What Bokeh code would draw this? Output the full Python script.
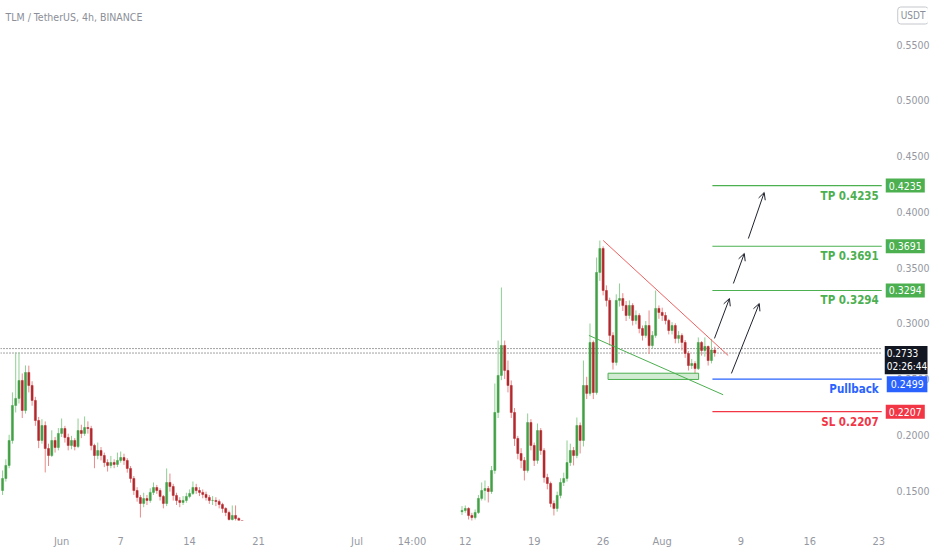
from bokeh.plotting import figure
from bokeh.models import Range1d, FixedTicker, NumeralTickFormatter, Label, Arrow, OpenHead, ColumnDataSource
from bokeh.embed import file_html
from bokeh.resources import INLINE

# ---- data (days since Jun 1; 8h candles) ----
STEP = 1 / 3
SEG1_START = -6.0
SEG2_START = -6.0 + 140 / 3

seg1_open0 = 0.150
seg1_close = [0.1608, 0.1725, 0.1949, 0.2263, 0.2326, 0.2487, 0.2218, 0.2559, 0.2442, 0.2308,
              0.2128, 0.1949, 0.2083, 0.1877, 0.1814, 0.1949, 0.1886, 0.2012, 0.2056, 0.1976,
              0.1904, 0.1949, 0.1895, 0.2038, 0.2012, 0.2065, 0.2056, 0.1904, 0.1814, 0.1859,
              0.1814, 0.1751, 0.1725, 0.1751, 0.1734, 0.1770, 0.1796, 0.1770, 0.1698, 0.1608,
              0.1500, 0.1438, 0.1384, 0.1428, 0.1411, 0.1483, 0.1527, 0.1500, 0.1447, 0.1384,
              0.1572, 0.1536, 0.1456, 0.1411, 0.1393, 0.1411, 0.1447, 0.1474, 0.1527, 0.1500,
              0.1483, 0.1465, 0.1438, 0.1411, 0.1411, 0.1402, 0.1375, 0.1339, 0.1303, 0.1240,
              0.1276, 0.1249, 0.1178, 0.1124]
seg1_high = [0.168, 0.178, 0.200, 0.238, 0.2738, 0.2738, 0.255, 0.2622, 0.262, 0.248,
             0.234, 0.216, 0.214, 0.212, 0.192, 0.204, 0.198, 0.206, 0.2146, 0.208,
             0.201, 0.199, 0.197, 0.2146, 0.209, 0.2164, 0.212, 0.208, 0.192, 0.193,
             0.189, 0.184, 0.178, 0.181, 0.178, 0.184, 0.185, 0.183, 0.179, 0.172,
             0.163, 0.153, 0.146, 0.148, 0.146, 0.152, 0.1572, 0.155, 0.152, 0.146,
             0.1698, 0.1652, 0.156, 0.148, 0.144, 0.145, 0.148, 0.151, 0.1581, 0.156,
             0.153, 0.151, 0.149, 0.146, 0.145, 0.144, 0.142, 0.139, 0.135, 0.132,
             0.1366, 0.1366, 0.126, 0.119]
seg1_low = [0.146, 0.158, 0.170, 0.192, 0.220, 0.228, 0.215, 0.219, 0.238, 0.226,
            0.208, 0.188, 0.192, 0.1662, 0.172, 0.180, 0.184, 0.186, 0.198, 0.193,
            0.186, 0.187, 0.186, 0.188, 0.197, 0.199, 0.201, 0.186, 0.170, 0.178,
            0.177, 0.171, 0.167, 0.170, 0.170, 0.171, 0.175, 0.173, 0.166, 0.157,
            0.146, 0.140, 0.1258, 0.135, 0.137, 0.139, 0.146, 0.147, 0.141, 0.134,
            0.136, 0.149, 0.141, 0.137, 0.135, 0.137, 0.139, 0.143, 0.146, 0.147,
            0.145, 0.143, 0.141, 0.138, 0.137, 0.136, 0.134, 0.130, 0.127, 0.120,
            0.122, 0.121, 0.114, 0.108]

seg2_open0 = 0.1310
seg2_close = [0.1321, 0.1339, 0.1276, 0.1258, 0.1303, 0.1429, 0.1500, 0.1518, 0.1491, 0.1680,
              0.2200, 0.2532, 0.2801, 0.2577, 0.2442, 0.2200, 0.1967, 0.1832, 0.1770, 0.1680,
              0.2110, 0.1904, 0.1770, 0.2038, 0.1859, 0.1617, 0.1563, 0.1384, 0.1339, 0.1456,
              0.1572, 0.1608, 0.1751, 0.1859, 0.1814, 0.2083, 0.1949, 0.2442, 0.2371, 0.2828,
              0.2379, 0.3456, 0.3671, 0.3294, 0.3205, 0.2891, 0.2649, 0.3205, 0.3222, 0.3160,
              0.3070, 0.3160, 0.3025, 0.3070, 0.2953, 0.2891, 0.2980, 0.2800, 0.2891, 0.3133,
              0.3097, 0.3070, 0.3025, 0.2935, 0.2980, 0.2864, 0.2891, 0.2828, 0.2729, 0.2621,
              0.2639, 0.2594, 0.2828, 0.2756, 0.2792, 0.2666, 0.2760, 0.2733]
seg2_high = [0.136, 0.1366, 0.135, 0.130, 0.133, 0.146, 0.1572, 0.1590, 0.154, 0.172,
             0.2460, 0.2845, 0.3321, 0.2845, 0.2666, 0.2487, 0.224, 0.199, 0.188, 0.180,
             0.2191, 0.214, 0.193, 0.2101, 0.206, 0.188, 0.165, 0.158, 0.141, 0.149,
             0.161, 0.166, 0.1949, 0.192, 0.189, 0.2155, 0.211, 0.2666, 0.252, 0.2998,
             0.2845, 0.3590, 0.3742, 0.3690, 0.3340, 0.3230, 0.2920, 0.3260, 0.3357, 0.3270,
             0.3200, 0.3205, 0.3180, 0.3115, 0.3090, 0.2980, 0.3020, 0.3115, 0.2930, 0.3294,
             0.3160, 0.3140, 0.3100, 0.3040, 0.3010, 0.3000, 0.2930, 0.2910, 0.2850, 0.2750,
             0.2680, 0.2660, 0.2873, 0.2840, 0.2873, 0.2800, 0.2860, 0.2790]
seg2_low = [0.128, 0.130, 0.124, 0.122, 0.124, 0.129, 0.141, 0.1411, 0.1393, 0.147,
            0.165, 0.215, 0.249, 0.250, 0.238, 0.215, 0.190, 0.178, 0.170, 0.1590,
            0.166, 0.186, 0.172, 0.174, 0.182, 0.157, 0.151, 0.135, 0.1276, 0.131,
            0.143, 0.154, 0.158, 0.172, 0.1725, 0.179, 0.1832, 0.1895, 0.232, 0.235,
            0.232, 0.236, 0.338, 0.325, 0.315, 0.280, 0.2585, 0.2621, 0.315, 0.311,
            0.302, 0.304, 0.298, 0.299, 0.291, 0.2845, 0.2870, 0.2724, 0.2770, 0.2870,
            0.3040, 0.3020, 0.2990, 0.2900, 0.2900, 0.2820, 0.2820, 0.2756, 0.2690, 0.2576,
            0.2590, 0.2550, 0.2580, 0.2710, 0.2700, 0.2621, 0.2640, 0.2700]

x_tick_days = [0, 6, 13, 20, 30, 35 + 14 / 24, 41, 48, 55, 61, 69, 76, 83]
x_tick_labels = ["Jun", "7", "14", "21", "Jul", "14:00", "12", "19", "26", "Aug", "9", "16", "23"]
y_ticks = [0.15, 0.20, 0.25, 0.30, 0.35, 0.40, 0.45, 0.50, 0.55]

last_price = 0.2733
prev_line = 0.2773
countdown = "02:26:44"

level_names = ["TP 0.4235", "TP 0.3691", "TP 0.3294", "Pullback", "SL 0.2207"]
level_values = [0.4235, 0.3691, 0.3294, 0.2499, 0.2207]
level_colors = ["#4caf50", "#4caf50", "#4caf50", "#2962ff", "#f23645"]
level_start = 66.1

# drawings
res_line_x = [55.0, 67.7]
res_line_y = [0.3743, 0.2711]
sup_line_x = [53.56, 67.19]
sup_line_y = [0.2891, 0.2359]
zone = dict(left=55.5, right=64.7, bottom=0.2496, top=0.2552)
arrow_x0 = [66.31, 68.23, 69.75, 68.03]
arrow_y0 = [0.2864, 0.3357, 0.3760, 0.2550]
arrow_x1 = [67.83, 69.34, 71.36, 70.86]
arrow_y1 = [0.3222, 0.3626, 0.4173, 0.3177]

# ---- layout ----
W, H = 932, 550
SCALE_W = 46            # width of the price-scale column (inside the frame)
BORDER_B = 30
X_START, X_PLOT_END = -6.21, 83.3          # visible chart area (left of the price scale)
X_END = X_PLOT_END + SCALE_W * (X_PLOT_END - X_START) / (W - SCALE_W)
Y_START, Y_END = 0.1231, 0.5895

FONT = "Liberation Sans Narrow, DejaVu Sans Condensed, Roboto, sans-serif"
UP, DOWN = "#43a047", "#b2282d"
UP_W, DOWN_W = "#8fcf92", "#e88a8a"

xs, os_, cs, hs, ls = [], [], [], [], []
for start, o0, c, h, l in [(SEG1_START, seg1_open0, seg1_close, seg1_high, seg1_low),
                           (SEG2_START, seg2_open0, seg2_close, seg2_high, seg2_low)]:
    xs += [start + i * STEP for i in range(len(c))]
    os_ += [o0] + c[:-1]
    cs += c; hs += h; ls += l

body_col = [UP if c >= o else DOWN for o, c in zip(os_, cs)]
wick_col = [UP_W if c >= o else DOWN_W for o, c in zip(os_, cs)]
src = ColumnDataSource(dict(x=xs, open=os_, close=cs, high=hs, low=ls,
                            top=[max(o, c) for o, c in zip(os_, cs)],
                            bottom=[min(o, c) for o, c in zip(os_, cs)],
                            bc=body_col, wc=wick_col))

p = figure(width=W, height=H, x_range=Range1d(X_START, X_END), y_range=Range1d(Y_START, Y_END),
           y_axis_location="right", output_backend="svg", toolbar_location=None,
           min_border_left=0, min_border_top=0, min_border_right=0, min_border_bottom=BORDER_B)
p.outline_line_color = None
p.grid.visible = False
p.background_fill_color = "white"

for ax in [p.xaxis[0], p.yaxis[0]]:
    ax.axis_line_color = None
    ax.major_tick_line_color = None
    ax.minor_tick_line_color = None
    ax.major_label_text_color = "#9598a1"
    ax.major_label_text_font = FONT
    ax.major_label_text_font_size = "11px"
p.yaxis.major_label_text_font_size = "10.5px"

p.xaxis.ticker = FixedTicker(ticks=x_tick_days)
p.xaxis.major_label_overrides = {t: s for t, s in zip(x_tick_days, x_tick_labels)}
p.xaxis.major_label_standoff = 8
p.yaxis.ticker = FixedTicker(ticks=y_ticks)
p.yaxis.formatter = NumeralTickFormatter(format="0.0000")
p.yaxis.major_label_standoff = -(SCALE_W - 9)   # draw the price labels inside the scale column

# dotted price lines
p.segment(x0=[X_START, X_START], x1=[X_PLOT_END, X_PLOT_END], y0=[prev_line, last_price],
          y1=[prev_line, last_price], line_color="#444444", line_width=1, line_dash="1 2")

# candles
p.segment(x0="x", x1="x", y0="low", y1="high", line_color="wc", line_width=1, source=src)
p.vbar(x="x", width=STEP * 0.62, top="top", bottom="bottom", fill_color="bc", line_color="bc",
       line_width=0.5, source=src)

# zone and trend lines
p.quad(left=[zone["left"]], right=[zone["right"]], bottom=[zone["bottom"]], top=[zone["top"]],
       fill_color="#4caf50", fill_alpha=0.25, line_color="#4caf50", line_width=1)
p.line(res_line_x, res_line_y, line_color="#f06060", line_width=1)
p.line(sup_line_x, sup_line_y, line_color="#4caf50", line_width=1)

# levels
p.segment(x0=[level_start] * len(level_values), x1=[X_PLOT_END] * len(level_values),
          y0=level_values, y1=level_values, line_color=level_colors, line_width=1.2)
for name, v, c in zip(level_names, level_values, level_colors):
    p.add_layout(Label(x=X_PLOT_END, y=v, x_offset=-3, y_offset=-3, text=name, text_align="right",
                       text_baseline="top", text_color=c, text_font=FONT, text_font_size="11.5px",
                       text_font_style="bold"))

# arrows
for a, b, c, d in zip(arrow_x0, arrow_y0, arrow_x1, arrow_y1):
    p.add_layout(Arrow(x_start=a, y_start=b, x_end=c, y_end=d, line_color="#1e222d", line_width=1,
                       end=OpenHead(size=7, line_color="#1e222d", line_width=1)))

# price-scale boxes
box_offsets = [0, 0, 0, -5, 0]
box_pads = [3, 3, 3, 4, 3]
for v, c, off, pad in zip(level_values, level_colors, box_offsets, box_pads):
    p.add_layout(Label(x=X_PLOT_END, y=v, x_offset=1 + pad, y_offset=off, text=f"{v:.4f}",
                       text_align="left", text_baseline="middle", text_color="white", text_font=FONT,
                       text_font_size="10.5px", background_fill_color=c, padding=pad))
p.add_layout(Label(x=X_PLOT_END, y=last_price, x_offset=3, y_offset=-7,
                   text=f"{last_price:.4f}\n{countdown}", text_align="left", text_baseline="middle",
                   text_color="white", text_font=FONT, text_font_size="10px",
                   background_fill_color="#131722", padding=2))

# title and currency badge
p.add_layout(Label(x=X_START, y=Y_END, x_offset=5, y_offset=-16, text="TLM / TetherUS, 4h, BINANCE",
                   text_align="left", text_baseline="middle", text_color="#8c8f98", text_font=FONT,
                   text_font_size="10.5px"))
p.add_layout(Label(x=X_PLOT_END, y=Y_END, x_offset=16, y_offset=-15, text="USDT", text_align="left",
                   text_baseline="middle", text_color="#8c8f98", text_font=FONT, text_font_size="10px",
                   border_line_color="#c5c7cc", border_radius=3, padding=3))

open("out.html", "w").write(file_html(p, INLINE))
